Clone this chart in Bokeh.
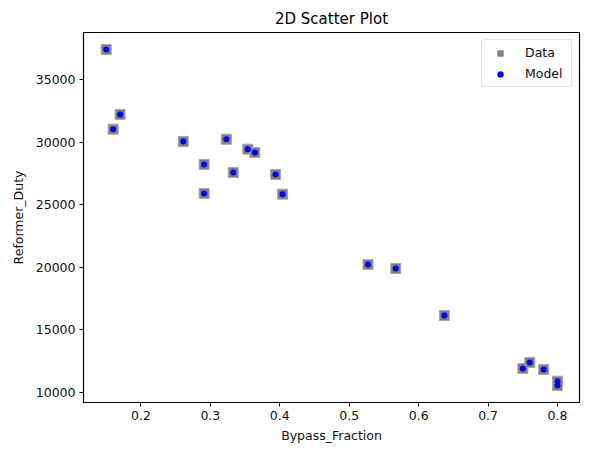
from bokeh.plotting import figure
from bokeh.models import Range1d, FixedTicker, Legend, LegendItem, ColumnDataSource
from bokeh.embed import file_html
from bokeh.resources import INLINE

bypass_fraction = [0.150, 0.170, 0.160, 0.261, 0.291, 0.291, 0.323, 0.354, 0.364, 0.333,
                   0.394, 0.404, 0.527, 0.567, 0.637, 0.750, 0.760, 0.780, 0.800, 0.800]
reformer_duty_data = [37400, 32200, 31030, 30050, 28210, 25890, 30230, 29430, 29170, 27570,
                      27410, 25840, 20220, 19900, 16150, 11920, 12400, 11840, 10900, 10560]
reformer_duty_model = list(reformer_duty_data)

x_ticks = [0.2, 0.3, 0.4, 0.5, 0.6, 0.7, 0.8]
y_ticks = [10000, 15000, 20000, 25000, 30000, 35000]

FONT = "DejaVu Sans"

src = ColumnDataSource(dict(x=bypass_fraction, yd=reformer_duty_data, ym=reformer_duty_model))

p = figure(width=589, height=455, output_backend="svg", toolbar_location=None,
           title="2D Scatter Plot",
           x_range=Range1d(0.1173, 0.8316), y_range=Range1d(9201, 38753),
           min_border_left=83, min_border_right=10, min_border_top=32, min_border_bottom=53)

p.title.align = "center"
p.title.text_font = FONT
p.title.text_font_size = "15px"
p.title.text_font_style = "normal"
p.title.text_color = "black"

p.scatter("x", "yd", source=src, marker="square", size=10, fill_color="gray",
          line_color="#a8a8a8", line_width=1)
p.scatter("x", "ym", source=src, marker="circle", size=6, fill_color="blue",
          line_color=None)

# legend proxies placed outside the visible range
proxy = ColumnDataSource(dict(x=[-100.0], y=[-1e6]))
leg_data = p.scatter("x", "y", source=proxy, marker="square", size=8, fill_color="gray",
                     line_color=None)
leg_model = p.scatter("x", "y", source=proxy, marker="circle", size=5, fill_color="blue",
                      line_color=None)

p.xgrid.visible = False
p.ygrid.visible = False
p.outline_line_color = "black"
p.outline_line_width = 1.2
p.background_fill_color = "white"
p.border_fill_color = "white"

for ax in (p.xaxis[0], p.yaxis[0]):
    ax.major_label_text_font = FONT
    ax.major_label_text_font_size = "12.5px"
    ax.major_label_text_color = "#111111"
    ax.axis_label_text_font = FONT
    ax.axis_label_text_font_size = "12.5px"
    ax.axis_label_text_font_style = "normal"
    ax.axis_label_text_color = "#111111"
    ax.major_tick_out = 4
    ax.major_tick_in = 0
    ax.minor_tick_out = 0
    ax.minor_tick_in = 0
    ax.axis_line_color = "black"
    ax.major_tick_line_color = "black"

p.xaxis.axis_label = "Bypass_Fraction"
p.yaxis.axis_label = "Reformer_Duty"
p.xaxis.ticker = FixedTicker(ticks=x_ticks)
p.yaxis.ticker = FixedTicker(ticks=y_ticks)
p.xaxis.major_label_overrides = {t: f"{t:.1f}" for t in x_ticks}
p.yaxis.major_label_overrides = {t: str(t) for t in y_ticks}
p.yaxis.major_label_standoff = 4
p.xaxis.major_label_standoff = 4
p.yaxis.axis_label_standoff = 7

legend = Legend(items=[LegendItem(label="Data", renderers=[leg_data]),
                       LegendItem(label="Model", renderers=[leg_model])],
                location="top_right")
legend.label_text_font = FONT
legend.label_text_font_size = "12.5px"
legend.label_text_color = "#111111"
legend.border_line_color = "#cccccc"
legend.border_line_width = 1
legend.border_radius = 3
legend.margin = 7
legend.padding = 2
legend.spacing = 0
legend.glyph_width = 32
legend.glyph_height = 16
legend.label_height = 21
legend.label_width = 44
legend.label_standoff = 9
legend.label_text_baseline = "middle"
p.add_layout(legend)

open("out.html", "w").write(file_html(p, INLINE))
